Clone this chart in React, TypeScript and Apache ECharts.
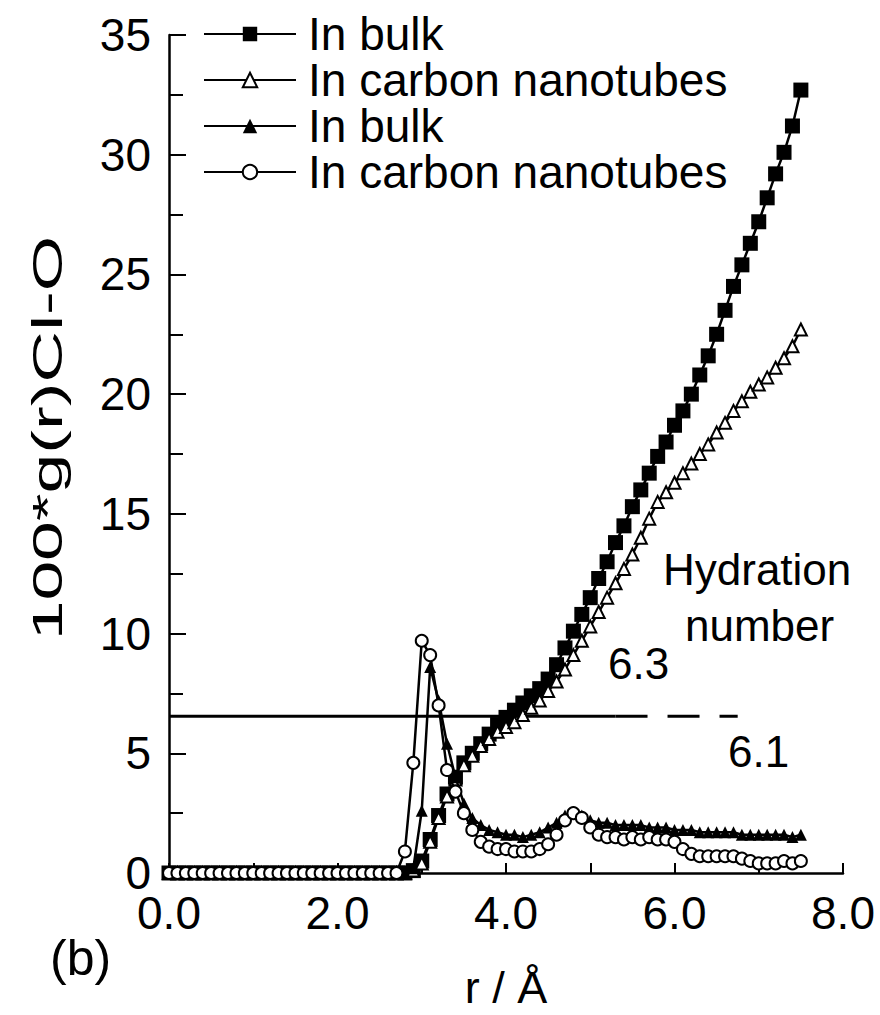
import React, { useEffect, useRef } from "react";
import * as echarts from "echarts";

// r grid (Å)
const rValues = [
  0.0, 0.1, 0.2, 0.3, 0.4, 0.5, 0.6, 0.7, 0.8, 0.9,
  1.0, 1.1, 1.2, 1.3, 1.4, 1.5, 1.6, 1.7, 1.8, 1.9,
  2.0, 2.1, 2.2, 2.3, 2.4, 2.5, 2.6, 2.7, 2.8, 2.9,
  3.0, 3.1, 3.2, 3.3, 3.4, 3.5, 3.6, 3.7, 3.8, 3.9,
  4.0, 4.1, 4.2, 4.3, 4.4, 4.5, 4.6, 4.7, 4.8, 4.9,
  5.0, 5.1, 5.2, 5.3, 5.4, 5.5, 5.6, 5.7, 5.8, 5.9,
  6.0, 6.1, 6.2, 6.3, 6.4, 6.5, 6.6, 6.7, 6.8, 6.9,
  7.0, 7.1, 7.2, 7.3, 7.4, 7.5,
];

// Running coordination number, bulk (filled squares)
const bulkN = [
  0, 0, 0, 0, 0, 0, 0, 0, 0, 0,
  0, 0, 0, 0, 0, 0, 0, 0, 0, 0,
  0, 0, 0, 0, 0, 0, 0, 0, 0, 0.1,
  0.5, 1.4, 2.4, 3.3, 4.0, 4.6, 5.0, 5.4, 5.8, 6.2,
  6.5, 6.8, 7.1, 7.4, 7.7, 8.1, 8.7, 9.4, 10.1, 10.8,
  11.5, 12.3, 13.0, 13.8, 14.5, 15.3, 16.0, 16.7, 17.4, 18.0,
  18.7, 19.3, 20.0, 20.8, 21.6, 22.5, 23.5, 24.5, 25.4, 26.3,
  27.2, 28.2, 29.2, 30.1, 31.2, 32.7,
];

// Running coordination number, in carbon nanotubes (open triangles)
const cntN = [
  0, 0, 0, 0, 0, 0, 0, 0, 0, 0,
  0, 0, 0, 0, 0, 0, 0, 0, 0, 0,
  0, 0, 0, 0, 0, 0, 0, 0, 0, 0.1,
  0.4, 1.3, 2.3, 3.2, 3.9, 4.5, 4.9, 5.3, 5.6, 5.9,
  6.1, 6.3, 6.6, 6.9, 7.2, 7.6, 8.0, 8.5, 9.1, 9.7,
  10.3, 10.9, 11.5, 12.1, 12.7, 13.3, 14.0, 14.8, 15.5, 15.9,
  16.3, 16.7, 17.1, 17.5, 17.9, 18.4, 18.8, 19.3, 19.7, 20.1,
  20.4, 20.7, 21.1, 21.5, 22.0, 22.7,
];

// 100*g(r), bulk (filled triangles)
const bulkG = [
  0, 0, 0, 0, 0, 0, 0, 0, 0, 0,
  0, 0, 0, 0, 0, 0, 0, 0, 0, 0,
  0, 0, 0, 0, 0, 0, 0, 0, 0, 0.2,
  2.6, 8.6, 7.2, 5.4, 4.0, 2.9, 2.3, 2.0, 1.8, 1.7,
  1.6, 1.6, 1.5, 1.6, 1.7, 1.9, 2.1, 2.4, 2.5, 2.4,
  2.2, 2.1, 2.1, 2.0, 2.0, 2.0, 2.0, 1.9, 1.9, 1.9,
  1.8, 1.8, 1.8, 1.7, 1.7, 1.7, 1.7, 1.7, 1.6, 1.6,
  1.6, 1.6, 1.6, 1.6, 1.5, 1.6,
];

// 100*g(r), in carbon nanotubes (open circles)
const cntG = [
  0, 0, 0, 0, 0, 0, 0, 0, 0, 0,
  0, 0, 0, 0, 0, 0, 0, 0, 0, 0,
  0, 0, 0, 0, 0, 0, 0, 0, 0.9, 4.6,
  9.7, 9.1, 7.0, 4.3, 3.4, 2.5, 1.8, 1.3, 1.1, 1.0,
  1.0, 0.9, 0.9, 0.9, 1.0, 1.2, 1.6, 2.2, 2.5, 2.3,
  1.9, 1.6, 1.5, 1.5, 1.4, 1.5, 1.4, 1.5, 1.4, 1.4,
  1.3, 1.0, 0.8, 0.7, 0.7, 0.7, 0.7, 0.7, 0.6, 0.5,
  0.4, 0.4, 0.4, 0.5, 0.4, 0.5,
];

// Hydration-number reference line
const hydrationLevel = 6.55;
const hydrationSolidEnd = 5.3;
const hydrationDashEnd = 6.75;

const xTicks = [0, 2, 4, 6, 8];
const yTicks = [0, 5, 10, 15, 20, 25, 30, 35];

const legendLabels: Record<string, string> = {
  bulkN: "In bulk",
  cntN: "In carbon nanotubes",
  bulkG: "In bulk",
  cntG: "In carbon nanotubes",
};

const FONT = "'Liberation Sans', Arial, sans-serif";

export default function App() {
  const ref = useRef<HTMLDivElement>(null);

  useEffect(() => {
    document.body.style.margin = "0";
    if (!ref.current) return;
    const chart = echarts.init(ref.current, undefined, { renderer: "svg" });

    const pairs = (arr: number[]) => rValues.map((r, i) => [r, arr[i]]);

    const baseSeries = (
      name: string,
      arr: number[],
      symbol: string,
      size: number,
      z: number
    ) => ({
      name,
      type: "line",
      data: pairs(arr),
      symbol,
      symbolSize: size,
      showAllSymbol: true,
      z,
      lineStyle: { color: "#000", width: 2.5 },
      itemStyle: {
        color: "#000",
        borderColor: "#000",
        borderWidth: symbol.startsWith("empty") ? 2.5 : 0,
      },
      emphasis: { disabled: true },
    });

    chart.setOption({
      animation: false,
      backgroundColor: "#fff",
      grid: { left: 169, top: 35, width: 674, height: 840, containLabel: false },
      legend: {
        orient: "vertical",
        left: 203,
        top: 11,
        padding: 0,
        itemWidth: 92,
        itemHeight: 18,
        itemGap: 0,
        data: ["bulkN", "cntN", "bulkG", "cntG"],
        formatter: (n: string) => legendLabels[n],
        textStyle: {
          color: "#000",
          fontSize: 46,
          lineHeight: 44,
          fontFamily: FONT,
          padding: [0, 0, 0, 7],
        },
        selectedMode: false,
      },
      xAxis: {
        type: "value",
        min: xTicks[0],
        max: xTicks[xTicks.length - 1],
        interval: 2,
        name: "r / Å",
        nameLocation: "middle",
        nameGap: 92,
        nameTextStyle: { color: "#000", fontSize: 45, fontFamily: FONT },
        axisLine: { show: true, lineStyle: { color: "#000", width: 2.5 } },
        axisTick: { show: true, inside: true, length: 10, lineStyle: { color: "#000", width: 2 } },
        minorTick: { show: true, splitNumber: 2, length: 10, lineStyle: { color: "#000", width: 2 } },
        splitLine: { show: false },
        axisLabel: {
          color: "#000",
          fontSize: 46,
          lineHeight: 40,
          fontFamily: FONT,
          margin: 20,
          formatter: (v: number) => v.toFixed(1),
        },
      },
      yAxis: {
        type: "value",
        min: yTicks[0],
        max: yTicks[yTicks.length - 1],
        interval: 5,
        axisLine: { show: true, lineStyle: { color: "#000", width: 2.5 } },
        axisTick: { show: true, inside: true, length: 17, lineStyle: { color: "#000", width: 2 } },
        minorTick: { show: true, splitNumber: 2, length: 14, lineStyle: { color: "#000", width: 2 } },
        splitLine: { show: false },
        axisLabel: { color: "#000", fontSize: 46, lineHeight: 38, fontFamily: FONT, margin: 18 },
      },
      series: [
        {
          name: "hydrationSolid",
          type: "line",
          data: [
            [0, hydrationLevel],
            [hydrationSolidEnd, hydrationLevel],
          ],
          symbol: "none",
          lineStyle: { color: "#000", width: 3 },
          z: 1,
        },
        {
          name: "hydrationDash",
          type: "line",
          data: [
            [hydrationSolidEnd, hydrationLevel],
            [hydrationDashEnd, hydrationLevel],
          ],
          symbol: "none",
          lineStyle: { color: "#000", width: 3, type: [32, 20] },
          z: 1,
        },
        baseSeries("bulkN", bulkN, "rect", 15, 3),
        baseSeries("cntN", cntN, "emptyTriangle", 12, 4),
        baseSeries("bulkG", bulkG, "triangle", 12, 5),
        baseSeries("cntG", cntG, "emptyCircle", 12, 6),
      ],
      graphic: [
        {
          type: "text",
          x: 47,
          y: 438,
          rotation: Math.PI / 2,
          scaleX: 1.7,
          style: {
            text: "100*g(r)Cl-O",
            font: `42px ${FONT}`,
            fill: "#000",
            align: "center",
            verticalAlign: "middle",
          },
        },
        { type: "text", left: 663, top: 547, style: { text: "Hydration", font: `44px ${FONT}`, fill: "#000" } },
        { type: "text", left: 685, top: 603, style: { text: "number", font: `44px ${FONT}`, fill: "#000" } },
        { type: "text", left: 608, top: 641, style: { text: "6.3", font: `44px ${FONT}`, fill: "#000" } },
        { type: "text", left: 728, top: 729, style: { text: "6.1", font: `44px ${FONT}`, fill: "#000" } },
        { type: "text", left: 50, top: 933, style: { text: "(b)", font: `50px ${FONT}`, fill: "#000" } },
      ],
    });

    return () => chart.dispose();
  }, []);

  return <div ref={ref} style={{ width: 880, height: 1015 }} />;
}
